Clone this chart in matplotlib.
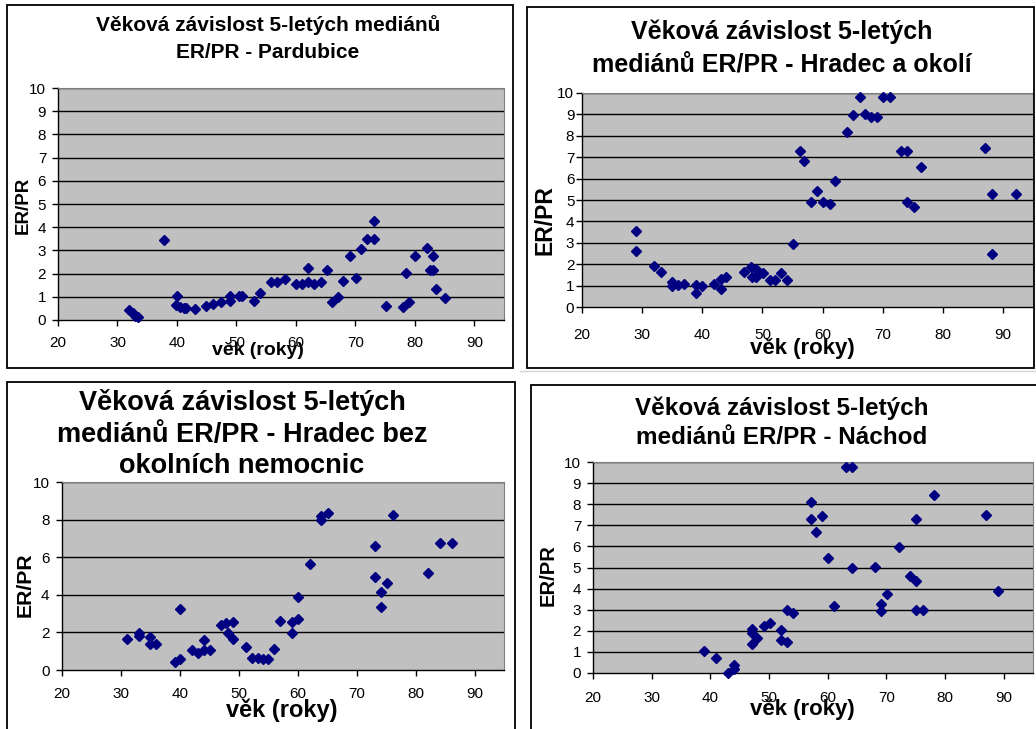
import matplotlib
matplotlib.use("Agg")
import matplotlib.pyplot as plt
from matplotlib.patches import Rectangle
from matplotlib.lines import Line2D

plt.rcParams['font.family'] = ['Liberation Sans', 'DejaVu Sans']

# 5-year medians of ER/PR by age, one pair of lists per hospital group
pardubice_age = [32.0, 32.6, 33.0, 33.4, 37.9, 40.0, 39.9, 40.5, 41.2, 41.6,
                 43.1, 44.9, 46.0, 47.4, 48.9, 48.9, 50.5, 51.0, 53.0, 54.0,
                 55.9, 56.9, 58.2, 60.0, 61.1, 62.1, 62.1, 63.1, 64.2, 65.2,
                 66.1, 67.1, 68.0, 69.1, 70.1, 71.0, 72.0, 73.1, 73.1, 75.1,
                 78.0, 78.5, 79.0, 80.0, 82.1, 82.6, 83.1, 83.1, 83.5, 85.0]
pardubice_ratio = [0.44, 0.3, 0.16, 0.14, 3.45, 1.05, 0.66, 0.57, 0.5, 0.52,
                   0.46, 0.62, 0.69, 0.77, 0.8, 1.02, 1.02, 1.02, 0.8, 1.15,
                   1.65, 1.65, 1.76, 1.55, 1.55, 2.23, 1.63, 1.55, 1.62, 2.15,
                   0.79, 0.97, 1.69, 2.78, 1.8, 3.05, 3.5, 3.5, 4.28, 0.62,
                   0.56, 2.02, 0.79, 2.75, 3.12, 2.16, 2.16, 2.75, 1.33, 0.96]

hradec_okoli_age = [28.9, 28.9, 32.0, 33.1, 34.9, 34.9, 36.0, 37.0, 39.0, 39.0,
                    40.0, 42.0, 43.1, 43.1, 44.0, 47.0, 48.1, 48.3, 49.0, 49.0,
                    50.1, 51.2, 52.1, 53.1, 54.1, 55.1, 56.2, 57.0, 58.1, 59.0,
                    60.0, 61.2, 62.0, 64.1, 65.1, 66.2, 67.1, 68.1, 69.1, 70.1,
                    71.2, 73.1, 74.1, 74.1, 75.2, 76.3, 87.1, 88.1, 88.1, 92.2]
hradec_okoli_ratio = [3.55, 2.63, 1.92, 1.64, 1.17, 0.97, 1.04, 1.06, 1.05, 0.65,
                      1.0, 1.06, 1.3, 0.85, 1.41, 1.64, 1.88, 1.38, 1.77, 1.38,
                      1.57, 1.24, 1.24, 1.57, 1.24, 2.95, 7.3, 6.83, 4.92, 5.44,
                      4.92, 4.8, 5.91, 8.2, 8.98, 9.8, 9.0, 8.88, 8.88, 9.8,
                      9.8, 7.3, 7.3, 4.92, 4.66, 6.52, 7.42, 5.27, 2.5, 5.27]

hradec_bez_age = [31.1, 33.1, 33.1, 35.0, 35.0, 36.0, 39.1, 40.0, 40.1, 42.0,
                  43.0, 44.1, 44.1, 45.1, 47.0, 47.9, 48.1, 49.1, 49.1, 51.2,
                  52.2, 53.2, 54.1, 55.0, 56.0, 57.0, 59.1, 59.1, 60.1, 60.1,
                  62.0, 63.9, 63.9, 65.2, 73.1, 73.1, 74.1, 74.1, 75.1, 76.1,
                  82.1, 84.1, 86.2]
hradec_bez_ratio = [1.66, 1.95, 1.8, 1.75, 1.38, 1.4, 0.43, 0.6, 3.27, 1.08,
                    0.93, 1.06, 1.6, 1.06, 2.39, 2.52, 1.95, 2.54, 1.66, 1.2,
                    0.66, 0.66, 0.6, 0.6, 1.13, 2.62, 1.99, 2.53, 2.7, 3.89,
                    5.63, 8.18, 7.96, 8.37, 6.57, 4.96, 4.16, 3.33, 4.64, 8.27,
                    5.17, 6.78, 6.78]

nachod_age = [39.0, 41.0, 43.0, 44.0, 44.0, 47.1, 47.1, 47.1, 47.9, 49.1,
              50.1, 52.1, 52.1, 53.1, 53.05, 54.1, 57.1, 57.1, 58.0, 59.1,
              60.0, 61.1, 63.1, 64.1, 64.1, 68.1, 69.1, 69.1, 70.1, 72.2,
              74.1, 75.0, 75.0, 75.0, 76.2, 78.1, 87.0, 89.0]
nachod_ratio = [1.06, 0.72, 0.0, 0.38, 0.18, 2.08, 1.9, 1.37, 1.65, 2.24,
                2.38, 2.04, 1.58, 1.45, 2.98, 2.83, 8.09, 7.31, 6.68, 7.42,
                5.47, 3.19, 9.76, 9.76, 4.98, 5.02, 3.29, 2.92, 3.76, 5.97,
                4.58, 4.34, 7.31, 3.0, 3.0, 8.45, 7.47, 3.9]

titles = [
    ["Věková závislost 5-letých mediánů", "ER/PR - Pardubice"],
    ["Věková závislost 5-letých", "mediánů ER/PR - Hradec a okolí"],
    ["Věková závislost 5-letých", "mediánů ER/PR - Hradec bez", "okolních nemocnic"],
    ["Věková závislost 5-letých", "mediánů ER/PR - Náchod"],
]
x_ticks = [20, 30, 40, 50, 60, 70, 80, 90]
y_ticks_fine = list(range(0, 11))
y_ticks_coarse = list(range(0, 11, 2))

W, H = 1036, 729
fig = plt.figure(figsize=(W / 100, H / 100), dpi=100)
fig.patch.set_facecolor('white')


def fx(px):
    return px / W


def fy(py):
    return 1 - py / H


# pixel layout for each panel: frame box, plot box, title rows, axis labels
panels = [
    dict(x=pardubice_age, y=pardubice_ratio, yt=y_ticks_fine,
         frame=(7, 5, 513, 368), plot=(58, 88, 504, 320),
         title_x=268, title_y=[25, 53], title_fs=15,
         ylab=(23, 205, 13.5), xlab=(258, 351, 14), ypad=4.5, xpad=7.5),
    dict(x=hradec_okoli_age, y=hradec_okoli_ratio, yt=y_ticks_fine,
         frame=(527, 7, 1034, 368), plot=(582, 93, 1033, 307),
         title_x=782, title_y=[32, 65], title_fs=18,
         ylab=(545, 220, 16.5), xlab=(802, 348, 16), ypad=1.5, xpad=11),
    dict(x=hradec_bez_age, y=hradec_bez_ratio, yt=y_ticks_coarse,
         frame=(7, 382, 515, 735), plot=(62, 482, 504, 670),
         title_x=242, title_y=[403, 435, 466], title_fs=19.5,
         ylab=(25, 585, 15.3), xlab=(282, 710, 17), ypad=5, xpad=8.5),
    dict(x=nachod_age, y=nachod_ratio, yt=y_ticks_fine,
         frame=(531, 385, 1040, 735), plot=(593, 462, 1033, 673),
         title_x=782, title_y=[408, 437], title_fs=17.5,
         ylab=(548, 575, 14.6), xlab=(802, 710, 16), ypad=4.5, xpad=9),
]

# faint separator above the lower right chart
fig.add_artist(Line2D([fx(520), fx(1036)], [fy(370.5), fy(370.5)],
                      color='#d4d4d4', lw=1.0, transform=fig.transFigure))

for p, title in zip(panels, titles):
    x0, y0, x1, y1 = p['frame']
    fig.add_artist(Rectangle((fx(x0), fy(y1)), fx(x1) - fx(x0), fy(y0) - fy(y1),
                             transform=fig.transFigure, fill=False,
                             edgecolor='black', lw=1.3))

    l, t, r, b = p['plot']
    ax = fig.add_axes([fx(l), fy(b), fx(r) - fx(l), fy(t) - fy(b)])
    ax.set_facecolor('#c0c0c0')
    ax.set_xlim(20, 95)
    ax.set_ylim(0, 10)
    ax.set_xticks(x_ticks)
    ax.set_yticks(p['yt'])
    for v in p['yt'][1:]:
        ax.axhline(v, color='black', lw=1.0, zorder=1)
    ax.plot(p['x'], p['y'], linestyle='none', marker='D', markersize=5.2,
            color='#000080', markeredgecolor='#000080', zorder=3, clip_on=False)

    for side in ('top', 'right'):
        ax.spines[side].set_color('#808080')
        ax.spines[side].set_linewidth(0.8)
    for side in ('left', 'bottom'):
        ax.spines[side].set_color('black')
        ax.spines[side].set_linewidth(1.0)
    ax.tick_params(axis='both', direction='out', length=4, width=1.0,
                   labelsize=11, colors='black')
    ax.tick_params(axis='y', pad=p['ypad'])
    ax.tick_params(axis='x', pad=p['xpad'])

    for line, ty in zip(title, p['title_y']):
        fig.text(fx(p['title_x']), fy(ty), line, ha='center', va='center',
                 fontsize=p['title_fs'], fontweight='bold')

    yx, yy, yfs = p['ylab']
    fig.text(fx(yx), fy(yy), 'ER/PR', rotation=90, ha='center', va='center',
             fontsize=yfs, fontweight='bold')
    xx, xy, xfs = p['xlab']
    fig.text(fx(xx), fy(xy), 'věk (roky)', ha='center', va='center',
             fontsize=xfs, fontweight='bold')

fig.savefig('out.png', dpi=100, facecolor='white')
